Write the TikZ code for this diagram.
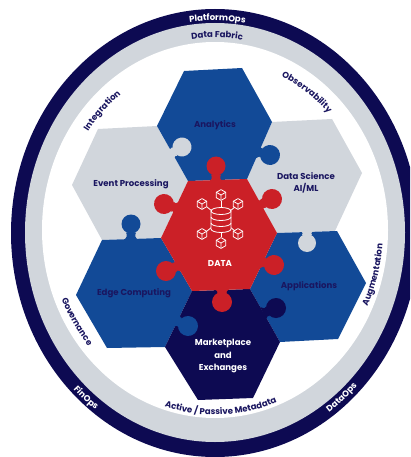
\documentclass[tikz,border=0pt]{standalone}
\usepackage{fontspec}
\setmainfont{Poppins}
\usetikzlibrary{decorations.text}
\definecolor{navy}{HTML}{0D0A52}
\definecolor{royal}{HTML}{124A97}
\definecolor{crimson}{HTML}{CB2027}
\definecolor{mist}{HTML}{D1D6DC}
\definecolor{inkc}{HTML}{1A1660}
\newcommand\lblfont{\bfseries\fontsize{8.6}{10}\selectfont}
\tikzset{
  hexlabel/.style={font=\bfseries\fontsize{8.6}{10}\selectfont,text=inkc,inner sep=0pt,align=center},
  hexlabelw/.style={hexlabel,text=white},
}
% centre x, centre y, rx, ry, start, end, colour, text
\newcommand\curvelabel[8]{%
  \path[decorate,decoration={text along path,text align=center,
    text={|\lblfont\color{#7}|#8}}]
    plot[domain=#5:#6,samples=41] ({#1+#3*cos(\x)},{#2+#4*sin(\x)});}
% colour, cx, cy, r, canvas angle, neck length
\newcommand\puzzletab[6]{%
  \begin{scope}[shift={(#2,#3)},rotate=#5]
    \fill[#1] (0,0) circle[radius=#4];
    \fill[#1] ({#6+1},-7) .. controls ({#6-2},-4) and ({#6-3},-3.5) .. ({#4-1},-5)
      -- ({#4-1},5) .. controls ({#6-3},3.5) and ({#6-2},4) .. ({#6+1},7) -- cycle;
  \end{scope}}
% cube icon
\newcommand\cubeicon[2]{%
  \begin{scope}[shift={(#1,#2)},draw=white,line width=0.8pt,line join=round]
    \draw (0,-5.4) -- (4.7,-2.7) -- (4.7,2.7) -- (0,5.4) -- (-4.7,2.7) -- (-4.7,-2.7) -- cycle;
    \draw (0,0) -- (0,5.4) (0,0) -- (4.7,-2.7) (0,0) -- (-4.7,-2.7);
  \end{scope}}
\begin{document}
\begin{tikzpicture}[x=1pt,y=-1pt]
\useasboundingbox (0,0) rectangle (410,457);
\clip (0,0) rectangle (410,457);
\fill[white] (0,0) rectangle (410,457);
% rings
\fill[navy] (215,233) ellipse[x radius=204,y radius=224];
\fill[mist] (215,232.5) ellipse[x radius=190,y radius=209.5];
\fill[white] (215,230) ellipse[x radius=173,y radius=188];
% hexagons
\fill[mist] (98,129) -- (157,126) -- (188,181) -- (161,238) -- (102,240) -- (72,185) -- cycle;
\fill[mist] (272,122) -- (332,119) -- (362,173) -- (335,231) -- (277,233) -- (247,179) -- cycle;
\fill[royal] (102,240) -- (161,238) -- (192,291) -- (165,347) -- (107,348) -- (76,295) -- cycle;
\fill[royal] (277,233) -- (337,231) -- (366,283) -- (338,339) -- (280,342) -- (250,289) -- cycle;
\fill[royal] (184,71) -- (242,68) -- (272,122) -- (247,179) -- (188,181) -- (157,126) -- cycle;
\fill[navy] (192,291) -- (250,289) -- (280,342) -- (253,398) -- (198,400) -- (165,347) -- cycle;
\fill[crimson] (188,181) -- (247,179) -- (277,233) -- (250,289) -- (192,291) -- (161,238) -- cycle;
% tabs
\puzzletab{mist}{182}{147}{9.5}{211}{13}
\puzzletab{royal}{270}{155}{10}{165}{12}
\puzzletab{royal}{131}{224}{9.5}{-90}{15}
\puzzletab{mist}{307}{243}{9}{90}{12}
\puzzletab{navy}{276}{308}{10}{203}{13}
\puzzletab{royal}{188}{326}{10}{155}{12}
\puzzletab{crimson}{216}{166}{9.5}{-90}{15}
\puzzletab{crimson}{164}{204}{10}{-18}{13}
\puzzletab{crimson}{272}{199}{10}{207}{14}
\puzzletab{crimson}{166}{271}{10}{24}{13}
\puzzletab{crimson}{274}{265}{10}{165}{12}
\puzzletab{crimson}{222}{302}{10}{90}{12}
% data icon
\begin{scope}[draw=white,line width=0.8pt]
  \draw (221,201) -- (221,208) (221,232) -- (221,237);
  \draw (207,207) -- (212,211) (235,207) -- (230,211);
  \draw (207,231) -- (212,227) (235,231) -- (230,227);
  \draw[fill=crimson] (211,211) -- (211,229) arc[start angle=180,end angle=360,x radius=10,y radius=-3.5] -- (231,211);
  \draw (221,211) ellipse[x radius=10,y radius=3.5];
  \draw (211,217) arc[start angle=180,end angle=360,x radius=10,y radius=-3.5];
  \draw (211,223) arc[start angle=180,end angle=360,x radius=10,y radius=-3.5];
\end{scope}
\cubeicon{221}{195}\cubeicon{238}{204}\cubeicon{238}{234}
\cubeicon{221}{243}\cubeicon{202}{234}\cubeicon{202}{204}
% hexagon labels
\node[hexlabel] (analytics) at (215,125) {Analytics};
\node[hexlabel] (event) at (131,184) {Event Processing};
\node[hexlabel] (science) at (306,183) {Data Science\\[2.5pt]AI/ML};
\node[hexlabelw] (data) at (220,263) {DATA};
\node[hexlabel] (edge) at (134,293) {Edge Computing};
\node[hexlabel] (apps) at (309,286) {Applications};
\node[hexlabelw] (market) at (223,356) {Marketplace\\[3pt]and\\[2.5pt]Exchanges};
% ring labels
\curvelabel{214}{232}{192}{211.5}{245}{297}{white}{PlatformOps}
\curvelabel{214}{232}{177}{194.5}{245}{297}{inkc}{Data Fabric}
\curvelabel{215}{230}{156}{170}{190}{260}{inkc}{Integration}
\curvelabel{215}{230}{156}{170}{265}{345}{inkc}{Observability}
\curvelabel{215}{230}{166}{180}{183}{113}{inkc}{Governance}
\curvelabel{215}{230}{168}{182}{50}{-20}{inkc}{Augmentation}
\curvelabel{215}{230}{170}{185}{133}{43}{inkc}{Active / Passive Metadata}
\curvelabel{214}{232}{200}{221}{155}{105}{white}{FinOps}
\curvelabel{214}{232}{200}{221}{75}{25}{white}{DataOps}
\end{tikzpicture}
\end{document}
